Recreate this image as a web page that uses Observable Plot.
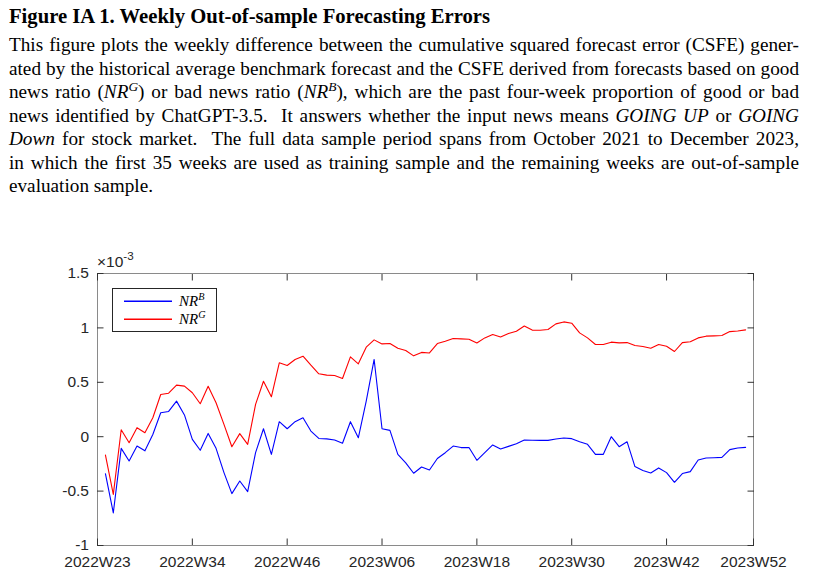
<!DOCTYPE html>
<html>
<head>
<meta charset="utf-8">
<script src="https://cdn.jsdelivr.net/npm/d3@7"></script>
<script src="https://cdn.jsdelivr.net/npm/@observablehq/plot@0.6"></script>
<style>
  html, body { margin: 0; padding: 0; background: #fff; }
  #page { position: relative; width: 819px; height: 575px; overflow: hidden; font-family: "Liberation Serif", serif; color: #000; }
  #title { position: absolute; left: 9px; top: 5px; font-size: 19px; font-weight: bold; line-height: 24px; white-space: nowrap; }
  #body { position: absolute; left: 9px; top: 34px; width: 790px; font-size: 18px; line-height: 23.5px; }
  #body .ln { text-align: justify; text-align-last: justify; height: 23.5px; white-space: normal; }
  #body .ln.last { text-align-last: left; }
  #body.measure .ln { text-align: left; text-align-last: left; white-space: nowrap; }
  .m { font-style: italic; }
  .sup { font-size: 0.7em; position: relative; top: -0.55em; line-height: 0; }
  #chart { position: absolute; left: 0; top: 205px; }
  #expo { position: absolute; left: 97px; top: 253px; font-family: "Liberation Sans", sans-serif; font-size: 15.5px; color: #262626; line-height: 18px; white-space: nowrap; }
  #expo .s { font-size: 0.75em; position: relative; top: -0.6em; }
  #legend { position: absolute; left: 112px; top: 288px; width: 103px; height: 42px; border: 1px solid #262626; background: transparent; }
  #legend .row { position: absolute; left: 0; height: 18px; width: 103px; }
  #legend .lab { position: absolute; left: 66px; top: 0; font-family: "Liberation Serif", serif; font-style: italic; font-size: 15px; line-height: 18px; color: #000; white-space: nowrap; }
  #legend .lab .sup { font-size: 0.68em; top: -0.6em; }
</style>
</head>
<body>
<div id="page">
  <div id="title"><span>Figure IA 1. Weekly Out-of-sample Forecasting Errors</span></div>
  <div id="body" class="measure">
    <div class="ln"><span>This figure plots the weekly difference between the cumulative squared forecast error (CSFE) gener-</span></div>
    <div class="ln"><span>ated by the historical average benchmark forecast and the CSFE derived from forecasts based on good</span></div>
    <div class="ln"><span>news ratio (<span class="m">NR</span><span class="sup"><i>G</i></span>) or bad news ratio (<span class="m">NR</span><span class="sup"><i>B</i></span>), which are the past four-week proportion of good or bad</span></div>
    <div class="ln"><span>news identified by ChatGPT-3.5. &nbsp;It answers whether the input news means <i>GOING UP</i> or <i>GOING</i></span></div>
    <div class="ln"><span><i>Down</i> for stock market. &nbsp;The full data sample period spans from October 2021 to December 2023,</span></div>
    <div class="ln"><span>in which the first 35 weeks are used as training sample and the remaining weeks are out-of-sample</span></div>
    <div class="ln last"><span>evaluation sample.</span></div>
  </div>
  <div id="chart"></div>
  <div id="expo">×10<span class="s">-3</span></div>
  <div id="legend"></div>
</div>
<script>
// Values in units of 10^-3 (as the axis multiplier shows)
const nrB = [
  -0.34, -0.70, -0.107, -0.223, -0.086, -0.13, 0.02, 0.22, 0.232, 0.327,
  0.20, -0.024, -0.125, 0.03, -0.107, -0.33, -0.523, -0.407, -0.505, -0.147,
  0.073, -0.162, 0.138, 0.073, 0.138, 0.174, 0.052, -0.016, -0.02, -0.03,
  -0.06, 0.138, -0.01, 0.327, 0.71, 0.073, 0.058, -0.162, -0.24, -0.336,
  -0.278, -0.306, -0.2, -0.147, -0.086, -0.1, -0.1, -0.217, -0.147, -0.076,
  -0.113, -0.089, -0.064, -0.03, -0.032, -0.034, -0.034, -0.021, -0.012, -0.018,
  -0.046, -0.07, -0.162, -0.162, 0.0, -0.092, -0.046, -0.275, -0.31, -0.333,
  -0.287, -0.33, -0.419, -0.339, -0.321, -0.214, -0.196, -0.193, -0.19, -0.119,
  -0.104, -0.098
];
const nrG = [
  -0.168, -0.53, 0.064, -0.055, 0.083, 0.037, 0.174, 0.388, 0.40, 0.474,
  0.465, 0.404, 0.303, 0.463, 0.312, 0.113, -0.092, 0.028, -0.07, 0.297,
  0.51, 0.367, 0.679, 0.654, 0.709, 0.74, 0.657, 0.578, 0.566, 0.563,
  0.535, 0.734, 0.67, 0.823, 0.89, 0.853, 0.856, 0.813, 0.792, 0.743,
  0.775, 0.77, 0.856, 0.878, 0.902, 0.899, 0.896, 0.862, 0.908, 0.939,
  0.917, 0.948, 0.969, 1.018, 0.98, 0.979, 0.985, 1.037, 1.055, 1.043,
  0.954, 0.908, 0.847, 0.847, 0.869, 0.862, 0.865, 0.838, 0.829, 0.813,
  0.847, 0.832, 0.783, 0.865, 0.872, 0.908, 0.924, 0.927, 0.93, 0.966,
  0.972, 0.982
];
const xTickPos = [0, 12, 24, 36, 48, 60, 72, 83];
const xTickLabels = ["2022W23", "2022W34", "2022W46", "2023W06", "2023W18", "2023W30", "2023W42", "2023W52"];
const yTickVals = [-1, -0.5, 0, 0.5, 1, 1.5];
const yTickLabels = ["-1", "-0.5", "0", "0.5", "1", "1.5"];
const seriesNames = ["NR^B", "NR^G"];
const seriesColors = ["#0000ff", "#ff0000"];

// --- fit caption text widths to the reference layout ---
(function fitText() {
  const asc = 0.891, tot = 1.107;
  const title = document.getElementById("title");
  const tw = title.firstElementChild.getBoundingClientRect().width;
  const ft = 19 * 481 / tw;
  title.style.fontSize = ft.toFixed(2) + "px";
  title.style.top = (23 - ((24 - tot * ft) / 2 + asc * ft)).toFixed(2) + "px";
  const body = document.getElementById("body");
  const lines = Array.from(document.querySelectorAll("#body .ln:not(.last)"));
  let minScale = Infinity;
  lines.forEach(l => {
    const w = l.firstElementChild.getBoundingClientRect().width;
    minScale = Math.min(minScale, 786 / w);
  });
  const fb = 18 * minScale;
  body.style.fontSize = fb.toFixed(2) + "px";
  body.style.top = (51.7 - ((23.5 - tot * fb) / 2 + asc * fb)).toFixed(2) + "px";
  body.classList.remove("measure");
})();

const rows = [];
nrB.forEach((v, i) => rows.push({week: i + 1, value: v, series: seriesNames[0]}));
nrG.forEach((v, i) => rows.push({week: i + 1, value: v, series: seriesNames[1]}));

const xLab = new Map(xTickPos.map((p, i) => [p, xTickLabels[i]]));
const yLab = new Map(yTickVals.map((p, i) => [p, yTickLabels[i]]));
const tk = 6.5;

// legend swatch: a short horizontal stroke drawn by Plot's dot mark
const swatch = {draw(context) { context.moveTo(-24, 0); context.lineTo(24, 0); }};
const legendMarks = seriesNames.map((name, i) =>
  Plot.dot([name], {x: null, y: null, frameAnchor: "top-left", dx: 50.5, dy: 27.75 + 18 * i,
    symbol: swatch, stroke: d => d, fill: "none", strokeWidth: 1.6})
);

const chart = Plot.plot({
  width: 819,
  height: 370,
  marginTop: 68,
  marginBottom: 30,
  marginLeft: 97,
  marginRight: 66,
  style: {fontFamily: "Liberation Sans, Arial, sans-serif", fontSize: "15.5px", color: "#262626", background: "transparent", overflow: "visible"},
  x: {domain: [0, 83], ticks: xTickPos},
  y: {domain: [-1, 1.5], ticks: yTickVals},
  color: {domain: seriesNames, range: seriesColors},
  marks: [
    Plot.frame({stroke: "#8a8a8a", strokeWidth: 1}),
    Plot.axisX({anchor: "bottom", ticks: xTickPos, tickSize: -tk, tickPadding: 17, tickFormat: d => xLab.get(d), label: null, stroke: "#333"}),
    Plot.axisX({anchor: "top", ticks: xTickPos, tickSize: -tk, tickFormat: () => "", label: null, stroke: "#333"}),
    Plot.axisY({anchor: "left", ticks: yTickVals, tickSize: -tk, tickPadding: 15, tickFormat: d => yLab.get(d), label: null, stroke: "#333"}),
    Plot.axisY({anchor: "right", ticks: yTickVals, tickSize: -tk, tickFormat: () => "", label: null, stroke: "#333"}),
    Plot.line(rows, {x: "week", y: "value", z: "series", stroke: "series", strokeWidth: 1.1}),
    ...legendMarks
  ]
});
document.getElementById("chart").appendChild(chart);

// Legend labels (HTML overlay; box drawn around Plot-drawn swatches)
const legend = document.getElementById("legend");
seriesNames.forEach((name, i) => {
  const row = document.createElement("div");
  row.className = "row";
  row.style.top = (3 + i * 18) + "px";
  const [base, sup] = name.split("^");
  const lab = document.createElement("span");
  lab.className = "lab";
  lab.innerHTML = `${base}<span class="sup">${sup}</span>`;
  row.appendChild(lab);
  legend.appendChild(row);
});
</script>
</body>
</html>
